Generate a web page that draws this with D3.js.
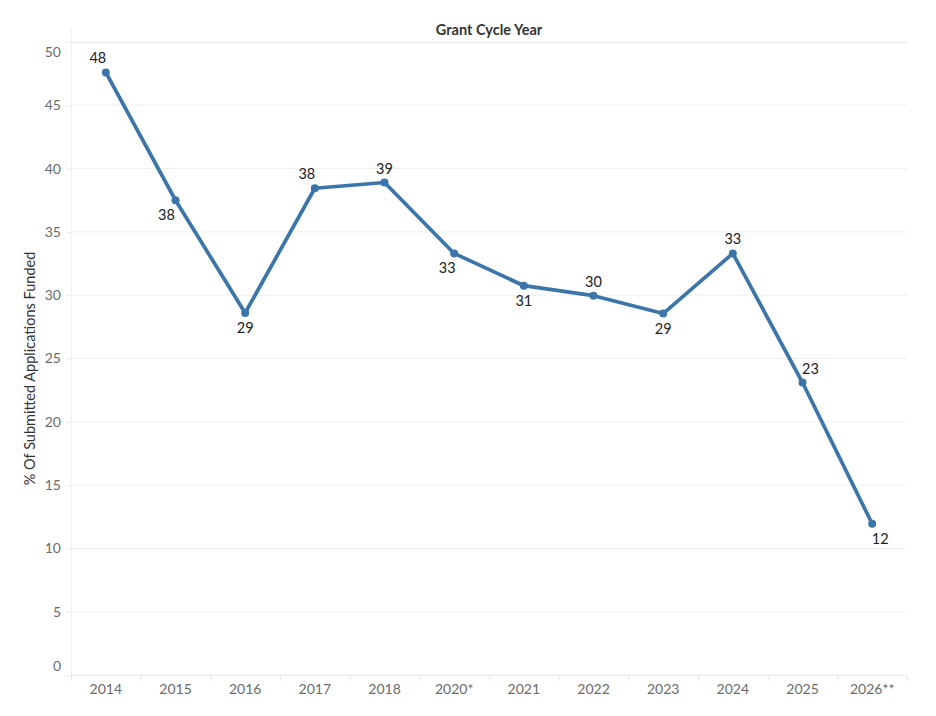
<!DOCTYPE html>
<html>
<head>
<meta charset="utf-8">
<script src="https://cdn.jsdelivr.net/npm/d3@7"></script>
<style>
  html, body { margin: 0; padding: 0; background: #fff; }
  svg { display: block; font-family: Lato, "Open Sans", sans-serif; }
</style>
</head>
<body>
<svg id="chart" width="936" height="716"></svg>
<script>
const years = ["2014","2015","2016","2017","2018","2020*","2021","2022","2023","2024","2025","2026**"];
const percentFunded = [47.6, 37.5, 28.6, 38.45, 38.9, 33.3, 30.75, 29.96, 28.55, 33.3, 23.1, 11.95];
const valueLabels = ["48","38","29","38","39","33","31","30","29","33","23","12"];
const yTicks = [0, 5, 10, 15, 20, 25, 30, 35, 40, 45, 50];

// label placement (styling): side and horizontal nudge
const labelSide = ["above","below","below","above","above","below","below","above","below","above","above","below"];
const labelNudge = [-8, -9, 0, -8, 0, -7, 0, 0, 0, 0, 8, 8];

const svg = d3.select("#chart");
const margin = { left: 71, right: 29, top: 42, bottom: 41 };
const W = 936, H = 716;

const x = d3.scaleBand().domain(years).range([margin.left, W - margin.right]).padding(0);
const y = d3.scaleLinear().domain([0, 50]).range([H - margin.bottom, margin.top]);

// gridlines
svg.append("g").selectAll("line").data(yTicks).join("line")
  .attr("x1", margin.left).attr("x2", W - margin.right)
  .attr("y1", d => y(d)).attr("y2", d => y(d))
  .attr("stroke", "#efefef").attr("stroke-width", 1);

// left axis line
svg.append("line")
  .attr("x1", margin.left + 0.5).attr("x2", margin.left + 0.5)
  .attr("y1", margin.top - 14).attr("y2", y(0) + 6)
  .attr("stroke", "#f0f0f0");

// y axis
const yAxis = d3.axisLeft(y).tickValues(yTicks).tickSize(4).tickPadding(6);
const yg = svg.append("g").attr("transform", `translate(${margin.left},0)`).call(yAxis);
yg.select(".domain").remove();
yg.selectAll(".tick line").attr("stroke", "#e6e6e6");
yg.selectAll(".tick text")
  .attr("fill", "#6b6b6b").attr("font-size", 14)
  .attr("font-family", "Lato, 'Open Sans', sans-serif")
  .attr("dy", d => d === 0 ? "-0.35em" : d === 50 ? "1.05em" : "0.32em");

// x axis
const xAxis = d3.axisBottom(x).tickSize(0).tickPadding(9);
const xg = svg.append("g").attr("transform", `translate(0,${y(0)})`).call(xAxis);
xg.select(".domain").attr("stroke", "#ededed");
xg.selectAll(".tick text")
  .attr("fill", "#6b6b6b").attr("font-size", 14)
  .attr("font-family", "Lato, 'Open Sans', sans-serif");
// band separators
svg.append("g").selectAll("line").data(years.concat(["_end"])).join("line")
  .attr("x1", (d, i) => margin.left + i * x.bandwidth() + 0.5)
  .attr("x2", (d, i) => margin.left + i * x.bandwidth() + 0.5)
  .attr("y1", y(0) + 1).attr("y2", y(0) + 6)
  .attr("stroke", "#e6e6e6");

// title
svg.append("text")
  .attr("x", (margin.left + W - margin.right) / 2).attr("y", 35)
  .attr("text-anchor", "middle").attr("font-size", 14.5).attr("font-weight", "bold")
  .attr("fill", "#333").text("Grant Cycle Year");
svg.append("line")
  .attr("x1", margin.left).attr("x2", W - margin.right)
  .attr("y1", 42.5).attr("y2", 42.5).attr("stroke", "#ececec");

// y label
svg.append("text")
  .attr("transform", `translate(35,${(y(0) + y(50)) / 2 + 10}) rotate(-90)`)
  .attr("text-anchor", "middle").attr("font-size", 14.5)
  .attr("fill", "#333").text("% Of Submitted Applications Funded");

// line
const cx = (d, i) => x(years[i]) + x.bandwidth() / 2;
const line = d3.line().x((d, i) => cx(d, i)).y(d => y(d));
svg.append("path").datum(percentFunded)
  .attr("d", line).attr("fill", "none")
  .attr("stroke", "#3b75a9").attr("stroke-width", 3.7)
  .attr("stroke-linejoin", "round");

svg.append("g").selectAll("circle").data(percentFunded).join("circle")
  .attr("cx", cx).attr("cy", d => y(d)).attr("r", 4)
  .attr("fill", "#3b75a9");

// labels
svg.append("g").selectAll("text").data(percentFunded).join("text")
  .attr("x", (d, i) => cx(d, i) + labelNudge[i])
  .attr("y", (d, i) => labelSide[i] === "above" ? y(d) - 9 : y(d) + 20)
  .attr("text-anchor", "middle").attr("font-size", 14.5)
  .attr("fill", "#222").text((d, i) => valueLabels[i]);
</script>
</body>
</html>
